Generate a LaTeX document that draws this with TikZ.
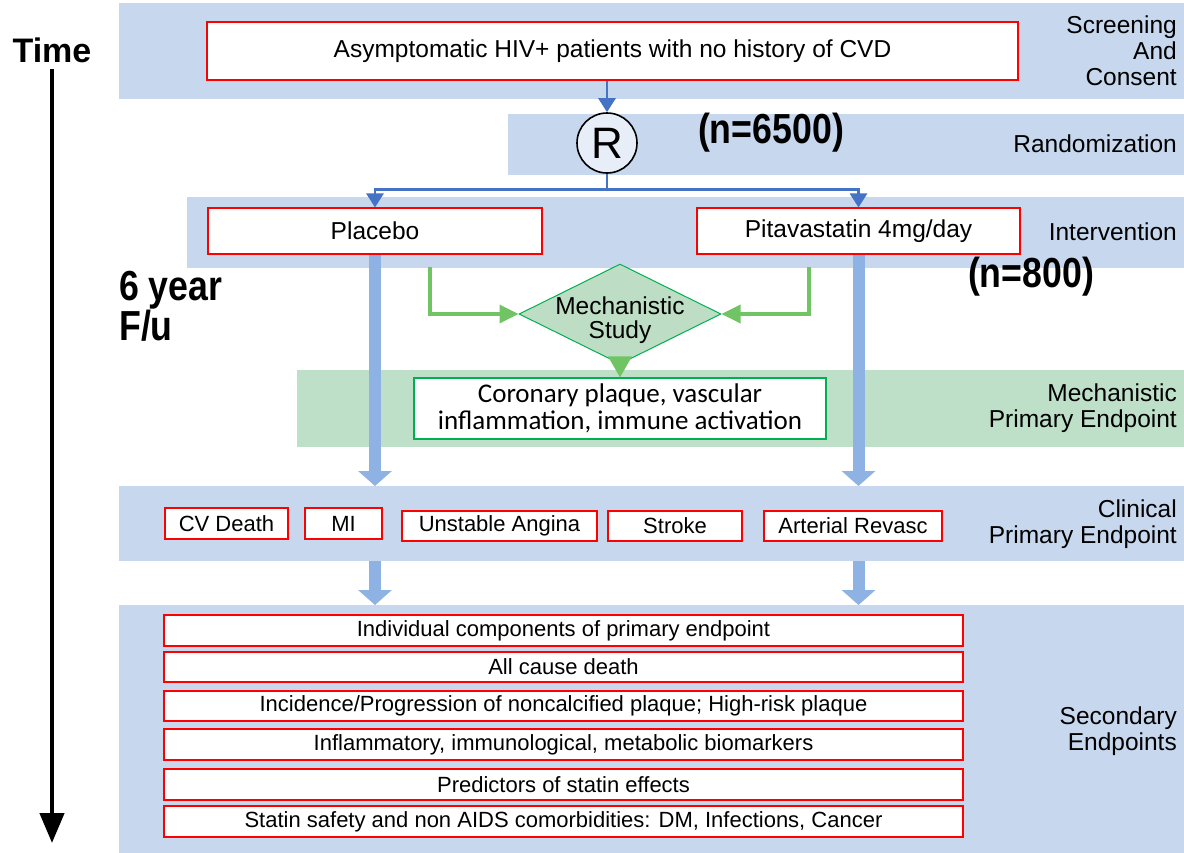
\documentclass[tikz,border=0pt]{standalone}
\usepackage{fontspec}
\setmainfont{Liberation Sans}
\newfontfamily\calfont{Carlito}
\usepackage{graphicx}
\usetikzlibrary{arrows.meta,shapes.geometric,positioning}

\definecolor{bandblue}{RGB}{198,215,238}
\definecolor{bandgreen}{RGB}{190,223,200}
\definecolor{fatblue}{RGB}{142,178,228}
\definecolor{darkblue}{RGB}{68,114,196}
\definecolor{greenline}{RGB}{112,196,100}
\definecolor{diamfill}{RGB}{189,222,196}
\definecolor{diamline}{RGB}{0,176,80}
\definecolor{circfill}{RGB}{232,238,248}

\newcommand{\narrowbf}[1]{\scalebox{0.85}[1]{\bfseries #1}}

\begin{document}
\begin{tikzpicture}[x=1pt,y=-1pt,
                    band/.style={fill=bandblue, inner sep=0, anchor=north west},
                    gband/.style={fill=bandgreen, inner sep=0, anchor=north west},
                    redbox/.style={draw=red, line width=1.1pt, fill=white, inner sep=0,
                                   font=\fontsize{24.5}{28}\selectfont},
                    smallbox/.style={redbox, font=\fontsize{22}{26}\selectfont},
                    sidelabel/.style={anchor=east, align=right, inner sep=0,
                                      font=\fontsize{24.5}{26}\selectfont},
                    bignum/.style={inner sep=0, font=\fontsize{42}{42}\selectfont},
                    thinarrow/.style={draw=darkblue, line width=2.8pt, -{Triangle[width=17pt,length=14pt]}},
                    fatarrow/.style={draw=fatblue, line width=12pt, -{Triangle[width=33pt,length=15pt]}},
                    greenarrow/.style={draw=greenline, line width=3.5pt, -{Triangle[width=18pt,length=19pt]}},
                    timearrow/.style={draw=black, line width=4.5pt, -{Triangle[width=24pt,length=30pt]}},
                   ]

\useasboundingbox (0,0) rectangle (1184,852);

% background bands
\node[band,  minimum width=1065, minimum height=96] (scr) at (119,3) {};
\node[band,  minimum width=676,  minimum height=61] (rnd) at (508,114) {};
\node[band,  minimum width=997,  minimum height=71] (intv) at (187,197) {};
\node[gband, minimum width=887,  minimum height=77] (mband) at (297,370) {};
\node[band,  minimum width=1065, minimum height=75] (clin) at (119,486) {};
\node[band,  minimum width=1065, minimum height=248] (sec) at (119,605) {};

\node[sidelabel] (lscr) at (1177,51) {Screening\\And\\Consent};
\node[sidelabel] (lrnd) at (1177,144) {Randomization};
\node[sidelabel] (lintv) at (1177,232) {Intervention};
\node[sidelabel] (lmech) at (1177,408) {Mechanistic\\Primary Endpoint};
\node[sidelabel] (lclin) at (1177,524) {Clinical\\Primary Endpoint};
\node[sidelabel] (lsec) at (1177,731) {Secondary\\Endpoints};

% time axis
\node[inner sep=0, font=\fontsize{34}{34}\selectfont\bfseries] (time) at (52,50) {Time};
\coordinate (tend) at (52,843);
\draw[timearrow] ([yshift=-6pt]time.south) -- (tend);

\node[bignum, anchor=west, align=left] (fu) at (119,306) {\narrowbf{6 year}\\[-2pt]\narrowbf{F/u}};
\node[bignum] (n6500) at (771,133) {\narrowbf{(n=6500)}};
\node[bignum] (n800) at (1031,277) {\narrowbf{(n=800)}};

% flow
\node[redbox, minimum width=811, minimum height=58] (pop) at (612.5,51) {Asymptomatic HIV+ patients with no history of CVD};
\node[circle, draw=black, line width=1.6pt, fill=circfill, minimum size=60, inner sep=0,
      font=\fontsize{44}{44}\selectfont] (rand) at (607,143) {R};
\node[redbox, minimum width=334, minimum height=46] (plac) at (375,231) {Placebo};
\node[redbox, minimum width=323, minimum height=46] (pita) at (858.5,231) {Pitavastatin 4mg/day};

\draw[thinarrow] (rand.north |- pop.south) -- (rand.north);
\draw[thinarrow] (rand.south) -- ++(0,16) -| (plac.north);
\draw[thinarrow] (rand.south) -- ++(0,16) -| (pita.north);

\draw[fatarrow] (plac.south) -- (plac.south |- clin.north);
\draw[fatarrow] (pita.south) -- (pita.south |- clin.north);

\node[diamond, draw=diamline, line width=1pt, fill=diamfill, inner sep=0,
      minimum width=202, minimum height=100,
      label={[align=center, yshift=-6pt, font=\fontsize{24.5}{24}\selectfont]center:Mechanistic\\Study}] (mech) at (620,314) {};
\node[draw=diamline, line width=1.1pt, fill=white, minimum width=412, minimum height=61, inner sep=0,
      align=center, font=\calfont\fontsize{27}{27}\selectfont] (coro) at (620,408.5)
      {Coronary plaque, vascular\\inflammation, immune activation};

\coordinate (gl) at (430,267);
\coordinate (gr) at (809,267);
\draw[greenarrow] (gl) |- (mech.west);
\draw[greenarrow] (gr) |- (mech.east);
\draw[greenarrow, -{Triangle[width=23pt,length=21pt]}] ([yshift=8pt]mech.south) -- (coro.north);

% clinical primary endpoint
\node[smallbox, minimum width=123, minimum height=31] (cvd) at (226.5,523.5) {CV Death};
\node[smallbox, minimum width=77,  minimum height=31] (mi) at (343.5,523.5) {MI};
\node[smallbox, minimum width=195, minimum height=30] (ua) at (499.5,526) {Unstable Angina};
\node[smallbox, minimum width=134, minimum height=30] (strk) at (675,526) {Stroke};
\node[smallbox, minimum width=178, minimum height=30] (rev) at (853,526) {Arterial Revasc};

\draw[fatarrow] (plac.south |- clin.south) -- (plac.south |- sec.north);
\draw[fatarrow] (pita.south |- clin.south) -- (pita.south |- sec.north);

% secondary endpoints
\node[smallbox, minimum width=799, minimum height=31] (s1) at (563.5,630.5) {Individual components of primary endpoint};
\node[smallbox, minimum width=799, minimum height=30] (s2) at (563.5,667) {All cause death};
\node[smallbox, minimum width=799, minimum height=30] (s3) at (563.5,706) {Incidence/Progression of noncalcified plaque; High-risk plaque};
\node[smallbox, minimum width=799, minimum height=31] (s4) at (563.5,744.5) {Inflammatory, immunological, metabolic biomarkers};
\node[smallbox, minimum width=799, minimum height=31] (s5) at (563.5,784.5) {Predictors of statin effects};
\node[smallbox, minimum width=799, minimum height=31] (s6) at (563.5,821.5) {Statin safety and non AIDS comorbidities: DM, Infections, Cancer};

\end{tikzpicture}
\end{document}
